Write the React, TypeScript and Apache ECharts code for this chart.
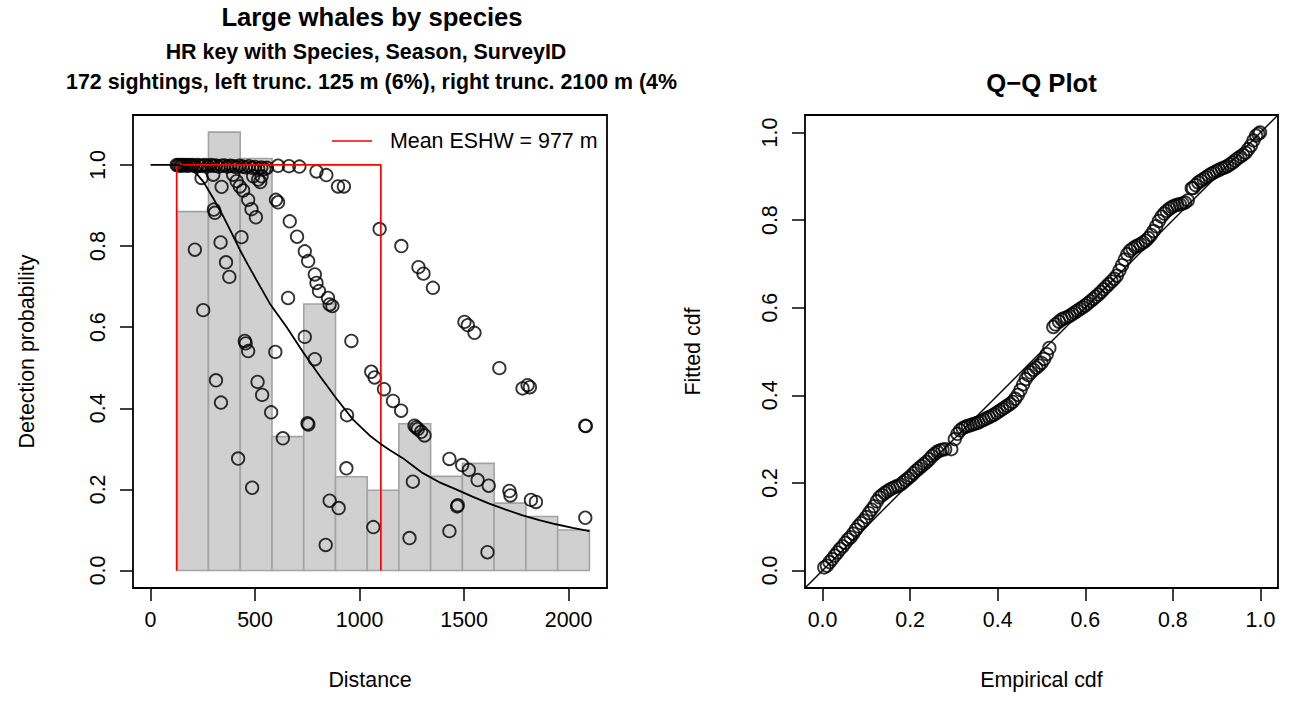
import React, { useEffect, useRef } from "react";
import * as echarts from "echarts";

const FONT = "'Liberation Sans', Arial, Helvetica, sans-serif";

// Text
const mainTitle = "Large whales by species";
const modelLine = "HR key with Species, Season, SurveyID";
const truncLine = "172 sightings, left trunc. 125 m (6%), right trunc. 2100 m (4%";
const qqTitle = "Q\u2212Q Plot";
const distLabel = "Distance";
const probLabel = "Detection probability";
const empLabel = "Empirical cdf";
const fitLabel = "Fitted cdf";

// Truncation and effective strip half-width (m)
const leftTrunc = 125;
const eshw = 977;

// Histogram of scaled detection counts
const binEdges = [125, 277, 429, 581, 733, 885, 1037, 1188, 1340, 1492, 1644, 1796, 1948, 2100];
const binHeights = [0.885, 1.081, 1.016, 0.33, 0.657, 0.231, 0.198, 0.362, 0.232, 0.264, 0.166, 0.133, 0.1];

// Axis ticks
const distTicks = [0, 500, 1000, 1500, 2000];
const probTicks = [0, 0.2, 0.4, 0.6, 0.8, 1.0];
const cdfTicks = [0, 0.2, 0.4, 0.6, 0.8, 1.0];

// Average detection function
const detFn: [number, number][] = [
  [0, 1], [125, 1], [160, 0.997], [190, 0.99], [221, 0.978], [252, 0.959], [300, 0.918],
  [348, 0.873], [390, 0.83], [427, 0.791], [467, 0.753], [507, 0.716], [571, 0.658],
  [650, 0.601], [730, 0.538], [809, 0.48], [889, 0.424], [969, 0.372], [1048, 0.333],
  [1096, 0.314], [1144, 0.297], [1207, 0.277], [1263, 0.255], [1303, 0.24], [1380, 0.218],
  [1462, 0.2], [1540, 0.182], [1621, 0.165], [1700, 0.15], [1780, 0.136], [1860, 0.124],
  [1940, 0.114], [2020, 0.105], [2100, 0.097],
];

// Per-sighting detection probability vs distance
const sightings: [number, number][] = [
  [125, 1.0], [131, 0.999], [138, 1.0], [145, 0.998], [152, 1.0], [160, 0.999], [168, 1.0],
  [176, 0.998], [185, 1.0], [194, 0.999], [204, 1.0], [214, 0.997], [226, 1.0], [238, 0.998],
  [250, 0.999], [262, 1.0], [275, 0.997], [288, 1.0], [300, 0.998], [313, 0.999], [326, 0.996],
  [340, 0.998], [354, 0.999], [368, 0.996], [382, 0.998], [396, 0.997], [410, 0.995], [424, 0.998],
  [440, 0.996], [455, 0.994], [470, 0.997], [486, 0.993], [500, 0.995], [515, 0.991], [530, 0.994],
  [545, 0.99], [557, 0.993],
  [610, 0.998], [662, 0.997], [712, 0.996], [794, 0.984], [841, 0.975], [897, 0.947], [925, 0.947],
  [244, 0.968], [300, 0.976], [340, 0.946], [395, 0.976], [412, 0.96], [427, 0.947], [443, 0.937],
  [467, 0.914], [483, 0.891], [504, 0.871], [491, 0.972], [515, 0.964], [531, 0.972], [525, 0.958],
  [600, 0.914], [610, 0.908], [666, 0.861], [701, 0.823], [738, 0.787], [754, 0.763], [786, 0.73],
  [794, 0.709], [806, 0.689], [849, 0.672], [870, 0.652], [857, 0.656],
  [303, 0.89], [308, 0.882], [212, 0.791], [335, 0.809], [435, 0.822], [361, 0.76], [377, 0.724],
  [658, 0.672], [252, 0.642],
  [1096, 0.842], [1200, 0.8], [1282, 0.748], [1306, 0.732], [1351, 0.697],
  [1502, 0.613], [1518, 0.605], [1550, 0.586], [1669, 0.499], [1780, 0.449], [1804, 0.457],
  [1815, 0.452], [2080, 0.357], [2083, 0.356],
  [451, 0.566], [455, 0.56], [467, 0.541], [597, 0.539], [738, 0.576], [786, 0.521], [961, 0.566],
  [313, 0.469], [337, 0.414], [512, 0.465], [534, 0.433], [577, 0.39], [633, 0.326], [751, 0.363],
  [755, 0.36], [940, 0.383], [419, 0.276], [486, 0.204], [937, 0.252], [857, 0.172], [900, 0.154],
  [838, 0.063], [1066, 0.107],
  [1056, 0.49], [1072, 0.476], [1117, 0.447], [1160, 0.418], [1199, 0.394],
  [1263, 0.357], [1271, 0.353], [1279, 0.349], [1295, 0.342], [1311, 0.333],
  [1255, 0.219], [1239, 0.08],
  [1430, 0.275], [1491, 0.26], [1523, 0.248], [1565, 0.223], [1618, 0.209], [1717, 0.196],
  [1722, 0.185], [1820, 0.174], [1844, 0.169], [1467, 0.158], [1470, 0.161], [1430, 0.097],
  [1612, 0.045], [2080, 0.13],
];

// Q-Q pairs: empirical cdf, fitted cdf
const qqPairs: [number, number][] = [
  [0.004, 0.007], [0.01, 0.011], [0.016, 0.019], [0.022, 0.026], [0.028, 0.034], [0.034, 0.041],
  [0.04, 0.049], [0.046, 0.055], [0.052, 0.063], [0.058, 0.071], [0.064, 0.076], [0.07, 0.084],
  [0.076, 0.093], [0.082, 0.101], [0.088, 0.108], [0.094, 0.114], [0.1, 0.122], [0.106, 0.131],
  [0.112, 0.139], [0.118, 0.147], [0.124, 0.158], [0.13, 0.167], [0.136, 0.172], [0.142, 0.177],
  [0.148, 0.181], [0.154, 0.185], [0.16, 0.188], [0.166, 0.191], [0.172, 0.193], [0.178, 0.196],
  [0.184, 0.201], [0.19, 0.206], [0.196, 0.211], [0.202, 0.216], [0.208, 0.222], [0.214, 0.228],
  [0.22, 0.233], [0.226, 0.238], [0.232, 0.243], [0.238, 0.248], [0.244, 0.254], [0.25, 0.261],
  [0.256, 0.266], [0.262, 0.271], [0.268, 0.274], [0.274, 0.276], [0.28, 0.277], [0.294, 0.277],
  [0.302, 0.3], [0.308, 0.312], [0.314, 0.32], [0.32, 0.325], [0.326, 0.328], [0.332, 0.33],
  [0.338, 0.332], [0.344, 0.334], [0.35, 0.336], [0.356, 0.338], [0.362, 0.341], [0.368, 0.344],
  [0.374, 0.347], [0.38, 0.35], [0.386, 0.353], [0.392, 0.356], [0.398, 0.36], [0.404, 0.364],
  [0.41, 0.368], [0.416, 0.372], [0.422, 0.376], [0.428, 0.38], [0.434, 0.385], [0.44, 0.392],
  [0.446, 0.401], [0.452, 0.412], [0.458, 0.425], [0.464, 0.437], [0.47, 0.446], [0.476, 0.452],
  [0.482, 0.458], [0.488, 0.463], [0.494, 0.468], [0.5, 0.474], [0.506, 0.483], [0.512, 0.494],
  [0.518, 0.508], [0.527, 0.556], [0.532, 0.562], [0.54, 0.568], [0.546, 0.573], [0.552, 0.576],
  [0.558, 0.578], [0.564, 0.581], [0.57, 0.585], [0.576, 0.589], [0.582, 0.593], [0.588, 0.597],
  [0.594, 0.601], [0.6, 0.605], [0.606, 0.61], [0.612, 0.615], [0.618, 0.62], [0.624, 0.625],
  [0.63, 0.63], [0.636, 0.636], [0.642, 0.642], [0.648, 0.648], [0.654, 0.654], [0.66, 0.66],
  [0.666, 0.666], [0.672, 0.673], [0.678, 0.685], [0.684, 0.697], [0.69, 0.71], [0.696, 0.722],
  [0.702, 0.73], [0.708, 0.735], [0.714, 0.739], [0.72, 0.742], [0.726, 0.745], [0.732, 0.749],
  [0.738, 0.753], [0.744, 0.759], [0.75, 0.766], [0.756, 0.775], [0.762, 0.786], [0.768, 0.798],
  [0.774, 0.808], [0.78, 0.815], [0.786, 0.821], [0.792, 0.826], [0.798, 0.83], [0.804, 0.833],
  [0.81, 0.835], [0.816, 0.836], [0.822, 0.838], [0.828, 0.84], [0.834, 0.845], [0.843, 0.873],
  [0.846, 0.873], [0.852, 0.88], [0.858, 0.886], [0.864, 0.89], [0.87, 0.894], [0.876, 0.898],
  [0.882, 0.902], [0.888, 0.906], [0.894, 0.909], [0.9, 0.912], [0.906, 0.915], [0.912, 0.918],
  [0.918, 0.92], [0.924, 0.923], [0.93, 0.927], [0.936, 0.931], [0.942, 0.936], [0.948, 0.941],
  [0.954, 0.945], [0.96, 0.949], [0.966, 0.954], [0.972, 0.962], [0.978, 0.97], [0.984, 0.982],
  [0.99, 0.993], [0.995, 0.997], [0.999, 1.0],
];

// Plot extents (R style 4% padding)
const distRange = [-84, 2184];
const probRange = [-0.0432, 1.1232];
const cdfRange = [-0.04, 1.04];

const txt = (size: number, bold = false) => ({
  font: `${bold ? "bold " : ""}${size}px ${FONT}`,
  fill: "#000",
});

const openCircle = {
  color: "rgba(0,0,0,0)",
  borderColor: "#000",
  borderWidth: 1.8,
};

function tickAxis(
  gridIndex: number,
  range: number[],
  ticks: number[],
  fmt: (v: number) => string,
  isY: boolean
) {
  return {
    gridIndex,
    type: "value",
    min: range[0],
    max: range[1],
    axisLine: { show: false, onZero: false },
    splitLine: { show: false },
    axisTick: {
      show: true,
      customValues: ticks,
      length: 13,
      lineStyle: { color: "#000", width: 1.5 },
    },
    axisLabel: {
      customValues: ticks,
      formatter: fmt,
      fontSize: 21.4,
      fontFamily: FONT,
      color: "#000",
      margin: isY ? 25 : 21,
      rotate: isY ? 90 : 0,
    },
  };
}

export default function App() {
  const ref = useRef<HTMLDivElement>(null);

  useEffect(() => {
    if (!ref.current) return;
    const chart = echarts.init(ref.current, null, { renderer: "svg" });

    const bars = binHeights.map((h, i) => [binEdges[i], binEdges[i + 1], h]);
    const truncBox = [
      [leftTrunc, 0],
      [leftTrunc, 1],
      [leftTrunc + eshw, 1],
      [leftTrunc + eshw, 0],
    ];

    chart.setOption({
      animation: false,
      backgroundColor: "#fff",
      grid: [
        { left: 133, top: 115, width: 474, height: 473, show: true, borderColor: "#000", borderWidth: 1.8, backgroundColor: "transparent" },
        { left: 805, top: 115, width: 473, height: 473, show: true, borderColor: "#000", borderWidth: 1.8, backgroundColor: "transparent" },
      ],
      xAxis: [
        tickAxis(0, distRange, distTicks, (v) => String(v), false),
        tickAxis(1, cdfRange, cdfTicks, (v) => v.toFixed(1), false),
      ],
      yAxis: [
        tickAxis(0, probRange, probTicks, (v) => v.toFixed(1), true),
        tickAxis(1, cdfRange, cdfTicks, (v) => v.toFixed(1), true),
      ],
      series: [
        {
          type: "custom",
          xAxisIndex: 0,
          yAxisIndex: 0,
          silent: true,
          data: bars,
          encode: { x: [0, 1], y: 2 },
          renderItem: (_p: any, api: any) => {
            const a = api.coord([api.value(0), api.value(2)]);
            const b = api.coord([api.value(1), 0]);
            return {
              type: "rect",
              shape: { x: a[0], y: a[1], width: b[0] - a[0], height: b[1] - a[1] },
              style: { fill: "#d0d0d0", stroke: "#a3a3a3", lineWidth: 1.6 },
            };
          },
        },
        {
          type: "line",
          xAxisIndex: 0,
          yAxisIndex: 0,
          silent: true,
          data: truncBox,
          symbol: "none",
          lineStyle: { color: "#ff0000", width: 1.7 },
        },
        {
          type: "line",
          xAxisIndex: 0,
          yAxisIndex: 0,
          silent: true,
          data: detFn,
          symbol: "none",
          lineStyle: { color: "#000", width: 1.8 },
        },
        {
          type: "scatter",
          xAxisIndex: 0,
          yAxisIndex: 0,
          silent: true,
          data: sightings,
          symbol: "circle",
          symbolSize: 12.5,
          itemStyle: openCircle,
        },
        {
          type: "line",
          xAxisIndex: 1,
          yAxisIndex: 1,
          silent: true,
          data: [
            [cdfRange[0], cdfRange[0]],
            [cdfRange[1], cdfRange[1]],
          ],
          symbol: "none",
          lineStyle: { color: "#000", width: 1.4 },
        },
        {
          type: "scatter",
          xAxisIndex: 1,
          yAxisIndex: 1,
          silent: true,
          data: qqPairs,
          symbol: "circle",
          symbolSize: 12.5,
          itemStyle: openCircle,
        },
      ],
      graphic: [
        { type: "text", x: 372, y: 17, style: { text: mainTitle, ...txt(25.7, true), align: "center", verticalAlign: "middle", textAlign: "center", textVerticalAlign: "middle" } },
        { type: "text", x: 366, y: 52, style: { text: modelLine, ...txt(21.4, true), align: "center", verticalAlign: "middle", textAlign: "center", textVerticalAlign: "middle" } },
        { type: "text", x: 66, y: 82, style: { text: truncLine, ...txt(21.4, true), align: "left", verticalAlign: "middle", textAlign: "left", textVerticalAlign: "middle" } },
        { type: "text", x: 1041.5, y: 83, style: { text: qqTitle, ...txt(25.7, true), align: "center", verticalAlign: "middle", textAlign: "center", textVerticalAlign: "middle" } },
        { type: "text", x: 370, y: 680, style: { text: distLabel, ...txt(21.4), align: "center", verticalAlign: "middle", textAlign: "center", textVerticalAlign: "middle" } },
        { type: "text", x: 1041.5, y: 680, style: { text: empLabel, ...txt(21.4), align: "center", verticalAlign: "middle", textAlign: "center", textVerticalAlign: "middle" } },
        { type: "text", x: 27, y: 351.5, rotation: Math.PI / 2, style: { text: probLabel, ...txt(21.4), align: "center", verticalAlign: "middle", textAlign: "center", textVerticalAlign: "middle" } },
        { type: "text", x: 693, y: 351.5, rotation: Math.PI / 2, style: { text: fitLabel, ...txt(21.4), align: "center", verticalAlign: "middle", textAlign: "center", textVerticalAlign: "middle" } },
        { type: "line", shape: { x1: 332, y1: 141, x2: 372, y2: 141 }, style: { stroke: "#ff0000", lineWidth: 1.7 } },
        { type: "text", x: 390, y: 141, style: { text: `Mean ESHW = ${eshw} m`, ...txt(21.4), align: "left", verticalAlign: "middle", textAlign: "left", textVerticalAlign: "middle" } },
      ],
    });

    return () => chart.dispose();
  }, []);

  return (
    <div
      ref={ref}
      style={{ position: "absolute", left: 0, top: 0, width: 1290, height: 719, background: "#fff" }}
    />
  );
}
